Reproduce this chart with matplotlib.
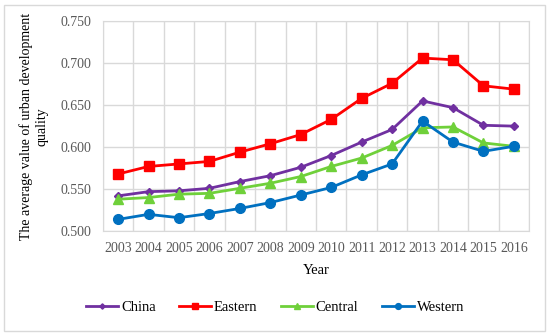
import numpy as np
import matplotlib
matplotlib.use("Agg")
import matplotlib.pyplot as plt
from matplotlib.patches import Rectangle

plt.rcParams['font.family'] = ['Liberation Serif', 'DejaVu Serif']

years = [str(y) for y in range(2003, 2017)]
china = [0.542, 0.547, 0.548, 0.551, 0.559, 0.566, 0.576, 0.590, 0.606, 0.621, 0.655, 0.647, 0.626, 0.625]
eastern = [0.568, 0.577, 0.580, 0.583, 0.594, 0.604, 0.615, 0.633, 0.658, 0.676, 0.706, 0.704, 0.673, 0.669]
central = [0.538, 0.540, 0.544, 0.545, 0.551, 0.557, 0.565, 0.577, 0.587, 0.602, 0.623, 0.624, 0.605, 0.601]
western = [0.514, 0.520, 0.516, 0.521, 0.527, 0.534, 0.543, 0.552, 0.567, 0.580, 0.631, 0.606, 0.595, 0.601]

fig = plt.figure(figsize=(5.5, 3.35), dpi=100)
ax = fig.add_axes([0.187, 0.310, 0.775, 0.627])

x = np.arange(len(years))
series = [
    ('China', china, '#7030A0', 'D', 4.5),
    ('Eastern', eastern, '#FF0000', 's', 6.5),
    ('Central', central, '#6FD03A', '^', 6.5),
    ('Western', western, '#0070C0', 'o', 7),
]
for name, vals, col, mk, ms in series:
    ax.plot(x, vals, color=col, marker=mk, markersize=ms, linewidth=2, label=name)

ax.set_xlim(-0.5, len(years) - 0.5)
ax.set_ylim(0.5, 0.75)
ax.set_yticks(np.arange(0.5, 0.751, 0.05))
ax.set_yticklabels([f'{v:.3f}' for v in np.arange(0.5, 0.751, 0.05)])
ax.set_xticks(x)
ax.set_xticklabels(years)
ax.set_xticks(np.arange(-0.5, len(years)), minor=True)
ax.grid(False)
ax.grid(True, which='minor', axis='x', color='#D9D9D9', linewidth=1)
ax.grid(True, which='major', axis='y', color='#D9D9D9', linewidth=1)
ax.set_axisbelow(True)
ax.tick_params(which='both', length=0, labelsize=10, colors='#595959', pad=8)
for s in ax.spines.values():
    s.set_color('#D9D9D9')

ax.set_xlabel('Year', fontsize=10.5, labelpad=6)
ax.set_ylabel('The average value of urban development\nquality', fontsize=10, labelpad=9)

leg = fig.legend(loc='center', bbox_to_anchor=(0.5, 0.083), ncol=4, frameon=False,
                 fontsize=10.5, handlelength=2.2, handletextpad=0.2,
                 columnspacing=1.6, markerscale=0.6)

fig.patches.append(Rectangle((0.008, 0.012), 0.983, 0.974, transform=fig.transFigure,
                             fill=False, edgecolor='#D9D9D9', linewidth=1))

fig.savefig('out.png', dpi=100)
